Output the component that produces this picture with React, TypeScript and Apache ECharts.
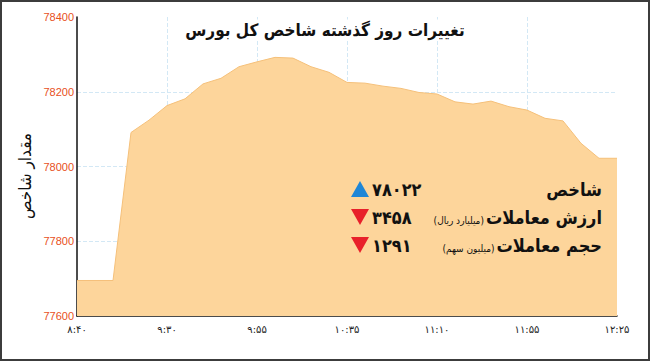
import React, { useEffect, useRef } from "react";
import * as echarts from "echarts";

const titleText = "تغییرات روز گذشته شاخص کل بورس";
const yAxisName = "مقدار شاخص";
const tickLabels = ["۸:۴۰", "۹:۳۰", "۹:۵۵", "۱۰:۳۵", "۱۱:۱۰", "۱۱:۵۵", "۱۲:۲۵"];
const indexValues = [
  77695, 77695, 77695, 78091, 78124, 78163, 78181, 78221, 78236, 78267,
  78280, 78292, 78290, 78267, 78252, 78225, 78223, 78215, 78209, 78198,
  78194, 78173, 78167, 78175, 78160, 78151, 78129, 78122, 78062, 78022,
  78022,
];
const infoLabels = ["شاخص", "ارزش معاملات", "حجم معاملات"];
const infoUnits = ["", "(میلیارد ریال)", "(میلیون سهم)"];
const infoValues = ["۷۸۰۲۲", "۳۴۵۸", "۱۲۹۱"];
const infoUp = [true, false, false];

const categories = indexValues.map((_, i) => String(i));
const AR = `"DejaVu Sans Condensed", "DejaVu Sans"`;

function measure(text: string, font: string): number {
  const c = document.createElement("canvas").getContext("2d");
  if (!c) return text.length * 8;
  c.font = font;
  return c.measureText(text).width;
}

export default function App() {
  const ref = useRef<HTMLDivElement>(null);
  useEffect(() => {
    if (!ref.current) return;
    const chart = echarts.init(ref.current, null, { renderer: "svg" });
    const gridColor = "#d3e8f5";
    const rowsY = [189, 217, 245];
    const labelFont = `bold 18px ${AR}`;
    const unitFont = `10px ${AR}`;
    const numFont = `bold 18px ${AR}`;
    const labelRight = 602;
    const info: any[] = [];
    rowsY.forEach((y, i) => {
      info.push({
        type: "text",
        x: labelRight,
        y,
        style: {
          text: infoLabels[i],
          font: labelFont,
          fill: "#111",
          textAlign: "right",
          textVerticalAlign: "middle",
        },
        z: 10,
      });
      if (infoUnits[i]) {
        const w = measure(infoLabels[i], labelFont);
        info.push({
          type: "text",
          x: labelRight - w - 2,
          y: y + 3,
          style: {
            text: infoUnits[i],
            font: unitFont,
            fill: "#111",
            textAlign: "right",
            textVerticalAlign: "middle",
          },
          z: 10,
        });
      }
      info.push({
        type: "text",
        x: 372,
        y,
        style: {
          text: infoValues[i],
          font: numFont,
          fill: "#111",
          textAlign: "left",
          textVerticalAlign: "middle",
        },
        z: 10,
      });
      info.push({
        type: "polygon",
        shape: {
          points: infoUp[i]
            ? [[351, y + 8], [360, y - 8], [369, y + 8]]
            : [[351, y - 8], [369, y - 8], [360, y + 8]],
        },
        style: { fill: infoUp[i] ? "#1f86d6" : "#e8202a" },
        z: 10,
      });
    });

    chart.setOption({
      animation: false,
      backgroundColor: "#ffffff",
      grid: { left: 77, right: 33, top: 17, bottom: 45, containLabel: false },
      xAxis: {
        type: "category",
        data: categories,
        boundaryGap: false,
        axisLine: { lineStyle: { color: "#111", width: 1.5 } },
        axisTick: { show: false },
        axisLabel: {
          interval: 4,
          margin: 8,
          fontSize: 10,
          fontFamily: "DejaVu Sans",
          color: "#222",
          formatter: (v: string) => tickLabels[Number(v) / 5] ?? "",
        },
        splitLine: {
          show: true,
          interval: 4,
          lineStyle: {
            color: ["transparent", gridColor, gridColor, gridColor, gridColor, gridColor, "transparent"],
            type: "dashed",
            width: 1,
          },
        },
      },
      yAxis: {
        type: "value",
        min: 77600,
        max: 78400,
        interval: 200,
        axisLine: { show: true, lineStyle: { color: "#111", width: 1.5 } },
        axisTick: { show: false },
        axisLabel: {
          margin: 3,
          fontSize: 11,
          fontFamily: "Liberation Sans Narrow, Liberation Sans",
          color: "#e8501c",
          formatter: (v: number) => String(v),
        },
        splitLine: {
          show: true,
          lineStyle: {
            color: ["transparent", gridColor, gridColor, gridColor, "transparent"],
            type: "dashed",
            width: 1,
          },
        },
      },
      graphic: [
        {
          type: "text",
          x: 325,
          y: 30,
          style: {
            text: titleText,
            font: `bold 17px ${AR}`,
            fill: "#111",
            textAlign: "center",
            textVerticalAlign: "middle",
            backgroundColor: "#ffffff",
            padding: [2, 4],
          },
          z: 6,
        },
        {
          type: "text",
          x: 25,
          y: 176,
          rotation: Math.PI / 2,
          style: {
            text: yAxisName,
            font: `17px ${AR}`,
            fill: "#111",
            textAlign: "center",
            textVerticalAlign: "middle",
          },
          z: 6,
        },
        ...info,
      ],
      series: [
        {
          type: "line",
          data: indexValues,
          symbol: "none",
          lineStyle: { color: "#f5c07a", width: 1 },
          areaStyle: { color: "#fdd59b", opacity: 1, origin: "start" },
          z: 2,
        },
      ],
    });
    return () => chart.dispose();
  }, []);
  return (
    <div style={{ position: "fixed", left: 0, top: 0, width: 650, height: 361 }}>
      <div ref={ref} style={{ position: "absolute", left: 0, top: 0, width: 650, height: 361 }} />
      <div
        style={{
          position: "absolute",
          left: 0,
          top: 0,
          width: 650,
          height: 361,
          boxSizing: "border-box",
          border: "2px solid #3c3c3c",
          pointerEvents: "none",
        }}
      />
    </div>
  );
}
